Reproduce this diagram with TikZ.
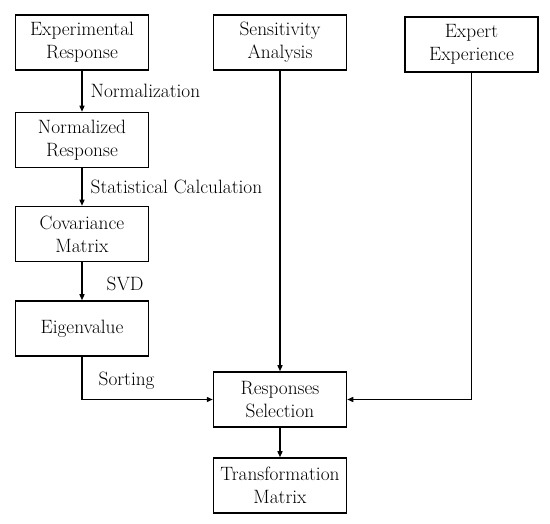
\documentclass[tikz,border=0pt]{standalone}
\usetikzlibrary{arrows.meta}
\begin{document}
\begin{tikzpicture}[x=1pt, y=-1pt,
  every node/.style={font=\fontsize{19.3}{23}\selectfont},
  box/.style={draw, line width=1.5pt, minimum width=133pt, minimum height=55pt, align=center, inner sep=2pt},
  arr/.style={-{Triangle[length=6pt,width=5pt]}, line width=1.3pt},
  lbl/.style={right=8pt, inner sep=0pt}]
\useasboundingbox (0,0) rectangle (550,524);
\node[box] (exp) at (82,42.5) {Experimental\\Response};
\node[box] (norm) at (82,140) {Normalized\\Response};
\node[box] (cov) at (82,234) {Covariance\\Matrix};
\node[box] (eig) at (82,328.5) {Eigenvalue};
\node[box] (sens) at (280,42.5) {Sensitivity\\Analysis};
\node[box] (expert) at (471.5,44.5) {Expert\\Experience};
\node[box] (sel) at (280,399.5) {Responses\\Selection};
\node[box] (trans) at (280,485.5) {Transformation\\Matrix};
\draw[arr] (exp) -- node[lbl] {Normalization} (norm);
\draw[arr] (norm) -- node[lbl] {Statistical Calculation} (cov);
\draw[arr] (cov) -- node[lbl, right=16pt, yshift=-3pt] {SVD} (eig);
\draw[arr] (eig) |- node[pos=0.5, anchor=south west, inner sep=0pt, xshift=16pt, yshift=9pt] {Sorting} (sel);
\draw[arr] (sens) -- (sel);
\draw[arr] (expert) |- (sel);
\draw[arr] (sel) -- (trans);
\end{tikzpicture}
\end{document}
